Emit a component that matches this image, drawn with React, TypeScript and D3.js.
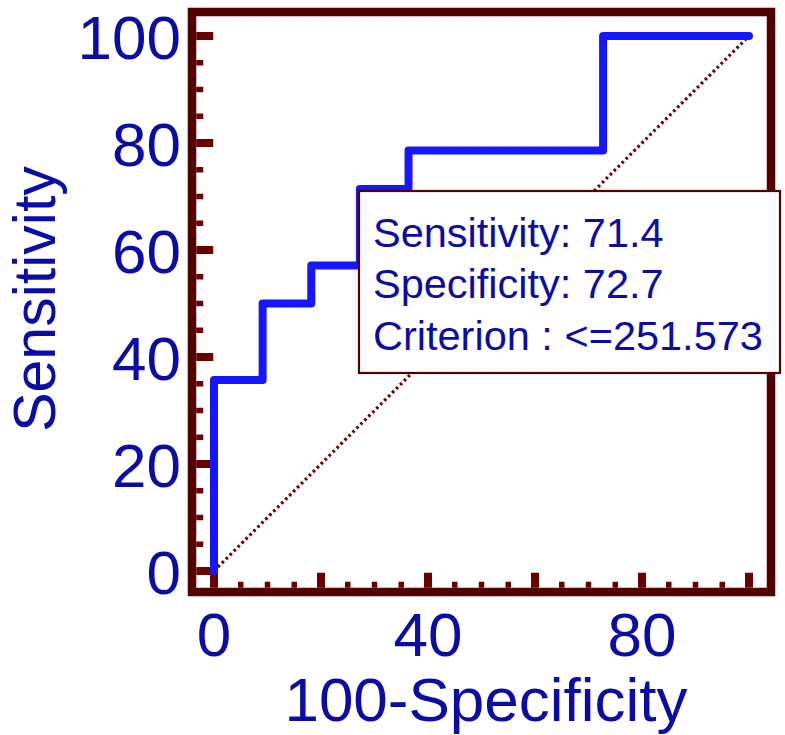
import React from "react";
import * as d3 from "d3";

// ROC curve points (100-Specificity, Sensitivity)
const rocX = [0, 0, 9.09, 9.09, 18.18, 18.18, 27.27, 27.27, 36.36, 36.36, 72.73, 72.73, 100];
const rocY = [0, 35.7, 35.7, 50, 50, 57.1, 57.1, 71.4, 71.4, 78.6, 78.6, 100, 100];
const diagX = [0, 100];
const diagY = [0, 100];
const yTickLabels = [0, 20, 40, 60, 80, 100];
const xTickLabels = [0, 40, 80];
const infoLines = ["Sensitivity: 71.4", "Specificity: 72.7", "Criterion : <=251.573"];

const W = 785;
const H = 735;
const FONT = "'Liberation Sans', Arial, Helvetica, sans-serif";
const TEXT = "#0b0ba8";
const FRAME = "#530000";
const TICK = "#6a0000";
const LINE = "#1616ff";

export default function App() {
  const x = d3.scaleLinear().domain([0, 100]).range([214, 749]);
  const y = d3.scaleLinear().domain([0, 100]).range([571, 36]);
  const minor = d3.range(0, 101, 5);

  const roc = d3
    .line<number>()
    .x((_, i) => x(rocX[i]))
    .y((_, i) => y(rocY[i]))(rocX.map((v) => v));
  const diag = d3
    .line<number>()
    .x((_, i) => x(diagX[i]))
    .y((_, i) => y(diagY[i]))(diagX.map((v) => v));

  const frame = { l: 192, r: 771, t: 12, b: 592, sw: 8.5 };
  const innerL = frame.l + frame.sw / 2;
  const innerB = frame.b - frame.sw / 2;

  return (
    <svg
      width={W}
      height={H}
      style={{ position: "absolute", left: 0, top: 0, background: "#fff" }}
      fontFamily={FONT}
    >
      <rect x={0} y={0} width={W} height={H} fill="#fff" />
      {/* y ticks */}
      {minor.map((v) => {
        const major = v % 20 === 0;
        return (
          <line
            key={"yt" + v}
            x1={innerL}
            x2={innerL + (major ? 17 : 7)}
            y1={y(v)}
            y2={y(v)}
            stroke={TICK}
            strokeWidth={major ? 8 : 5.5}
          />
        );
      })}
      {/* x ticks */}
      {minor.map((v) => {
        const major = v % 20 === 0;
        return (
          <line
            key={"xt" + v}
            x1={x(v)}
            x2={x(v)}
            y1={innerB}
            y2={innerB - (major ? 15 : 6)}
            stroke={TICK}
            strokeWidth={major ? 8 : 5.5}
          />
        );
      })}
      {/* diagonal */}
      <path d={diag || ""} fill="none" stroke={TICK} strokeWidth={3.2} strokeDasharray="2.6 3" />
      {/* ROC */}
      <path d={roc || ""} fill="none" stroke={LINE} strokeWidth={8} strokeLinejoin="round" strokeLinecap="round" />
      {/* frame */}
      <rect
        x={frame.l}
        y={frame.t}
        width={frame.r - frame.l}
        height={frame.b - frame.t}
        fill="none"
        stroke={FRAME}
        strokeWidth={frame.sw}
      />
      {/* y tick labels */}
      {yTickLabels.map((v) => (
        <text key={"yl" + v} x={181} y={y(v) + 22.5} textAnchor="end" fontSize={62} fill={TEXT}>
          {v}
        </text>
      ))}
      {/* x tick labels */}
      {xTickLabels.map((v) => (
        <text key={"xl" + v} x={x(v)} y={656} textAnchor="middle" fontSize={62} fill={TEXT}>
          {v}
        </text>
      ))}
      {/* axis titles */}
      <text x={486} y={721} textAnchor="middle" fontSize={62} fill={TEXT}>
        100-Specificity
      </text>
      <text
        transform="translate(55,299) rotate(-90)"
        textAnchor="middle"
        fontSize={59}
        fill={TEXT}
      >
        Sensitivity
      </text>
      {/* info box */}
      <rect x={359} y={191} width={421} height={182} fill="#fff" stroke={FRAME} strokeWidth={2.2} />
      {infoLines.map((t, i) => (
        <text key={t} x={373} y={246.5 + i * 51.7} fontSize={41.5} fill={TEXT}>
          {t}
        </text>
      ))}
    </svg>
  );
}
